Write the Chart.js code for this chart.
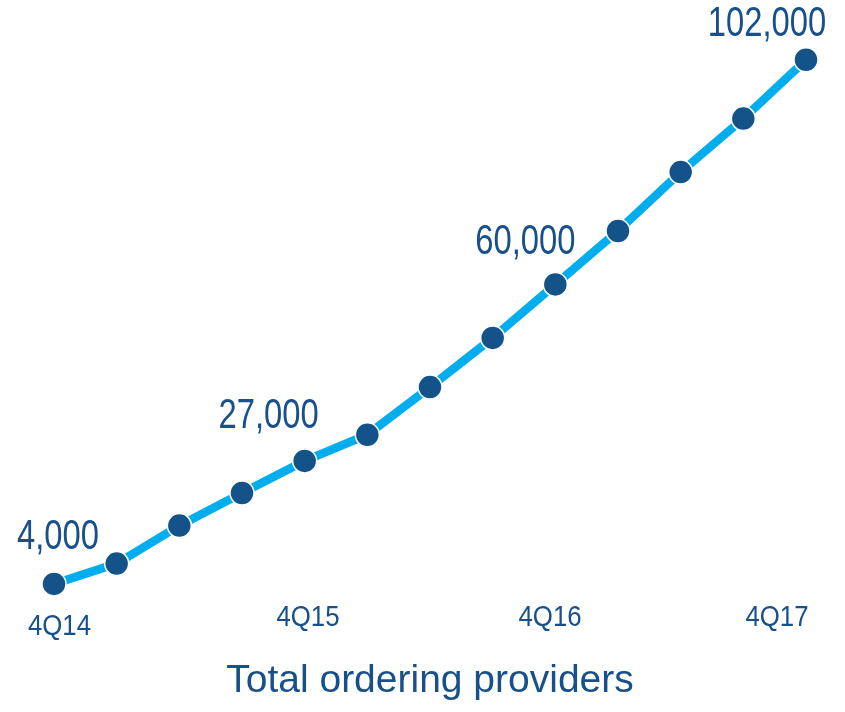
<!DOCTYPE html>
<html>
<head>
<meta charset="utf-8">
<script src="https://cdn.jsdelivr.net/npm/chart.js@4"></script>
<style>
  html, body { margin: 0; padding: 0; background: #ffffff; }
  #wrap { width: 845px; height: 712px; }
</style>
</head>
<body>
<div id="wrap"><canvas id="c" width="845" height="712"></canvas></div>
<script>
// ---- data ----
const quarters = ['4Q14','1Q15','2Q15','3Q15','4Q15','1Q16','2Q16','3Q16','4Q16','1Q17','2Q17','3Q17','4Q17'];
const providers = [4000, 7800, 14900, 21000, 27000, 31900, 40800, 50000, 60000, 70000, 81000, 91000, 102000];
const labelledIdx = [0, 4, 8, 12];
const shownTicks = ['4Q14', '4Q15', '4Q16', '4Q17'];
const chartTitle = 'Total ordering providers';

const FONT = "'Liberation Sans', Arial, sans-serif";
const TEXT = '#17508A';

// draws condensed text (Arial Narrow look) by horizontal scaling
function narrowText(ctx, txt, x, y, sx) {
  ctx.save();
  ctx.translate(x, y);
  ctx.scale(sx, 1);
  ctx.fillText(txt, 0, 0);
  ctx.restore();
}

const narrowLabels = {
  id: 'narrowLabels',
  afterDatasetsDraw(chart, args, opts) {
    const ctx = chart.ctx;
    const meta = chart.getDatasetMeta(0);
    const xs = chart.scales.x;
    const bottom = chart.chartArea.bottom;
    ctx.save();
    ctx.fillStyle = TEXT;
    ctx.textAlign = 'center';
    ctx.textBaseline = 'middle';
    // value labels
    ctx.font = opts.valueSize + 'px ' + FONT;
    labelledIdx.forEach((i, k) => {
      const p = meta.data[i];
      const off = opts.valueOffsets[k];
      narrowText(ctx, providers[i].toLocaleString('en-US'), p.x + off[0], p.y + off[1], opts.valueScale);
    });
    // category tick labels, positioned by the x scale
    ctx.font = opts.tickSize + 'px ' + FONT;
    shownTicks.forEach((lab, k) => {
      const px = xs.getPixelForValue(quarters.indexOf(lab));
      const off = opts.tickOffsets[k];
      narrowText(ctx, lab, px + off[0], bottom + off[1], opts.tickScale);
    });
    ctx.restore();
  }
};

new Chart(document.getElementById('c'), {
  type: 'line',
  data: {
    labels: quarters,
    datasets: [{
      data: providers,
      borderColor: '#00AEEF',
      borderWidth: 8.5,
      tension: 0,
      pointRadius: 12,
      pointHoverRadius: 12,
      pointBackgroundColor: '#14538A',
      pointBorderColor: '#ffffff',
      pointBorderWidth: 1.5,
      clip: false
    }]
  },
  options: {
    responsive: false,
    animation: false,
    layout: { padding: { left: 54, right: 39, top: 17, bottom: 0 } },
    plugins: {
      legend: { display: false },
      tooltip: { enabled: false },
      title: {
        display: true,
        position: 'bottom',
        text: chartTitle,
        color: TEXT,
        font: { family: FONT, size: 39, weight: 'normal', lineHeight: 1.2 },
        padding: { top: 63.6, bottom: 7 }
      },
      narrowLabels: {
        valueSize: 42,
        valueScale: 0.78,
        valueOffsets: [[4, -46], [-36, -44], [-30, -42], [-39, -35]],
        tickSize: 30,
        tickScale: 0.86,
        tickOffsets: [[5.5, 32], [3.3, 23.5], [-5.3, 23.5], [-29, 23.5]]
      }
    },
    scales: {
      x: {
        display: false,
        offset: false
      },
      y: {
        display: false,
        min: 2000,
        max: 110000
      }
    }
  },
  plugins: [narrowLabels]
});
</script>
</body>
</html>
